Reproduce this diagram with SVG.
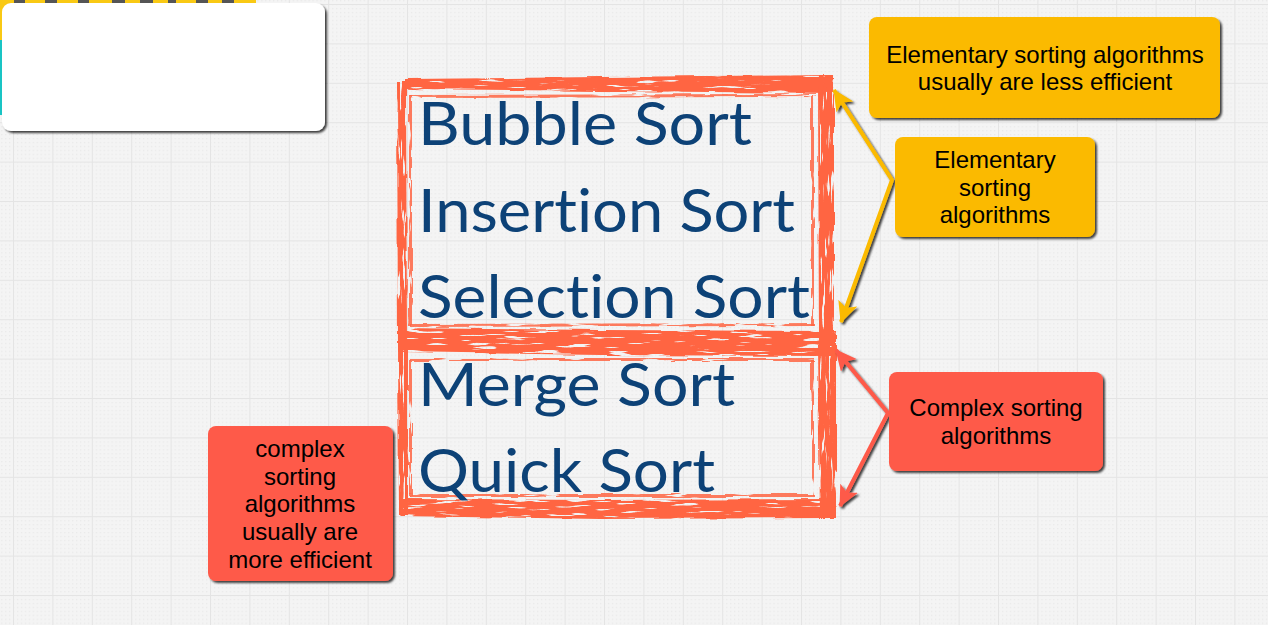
<svg xmlns="http://www.w3.org/2000/svg" width="1268" height="625" viewBox="0 0 1268 625">
<defs>
<pattern id="minor" width="3.94" height="3.94" patternUnits="userSpaceOnUse">
<rect x="0" y="0" width="1.3" height="1.3" fill="#e9e9e9"/>
</pattern>
<pattern id="major" x="13" y="4" width="39.4" height="39.4" patternUnits="userSpaceOnUse">
<rect width="39.4" height="39.4" fill="url(#minor)"/>
<path d="M0,0 H39.4 M0,0 V39.4" stroke="#e4e4e4" stroke-width="2" fill="none"/>
</pattern>
<filter id="sh" x="-10%" y="-10%" width="130%" height="130%">
<feDropShadow dx="2" dy="2" stdDeviation="1.2" flood-color="#000" flood-opacity="0.75"/>
</filter>
<filter id="rough" x="-5%" y="-5%" width="110%" height="110%">
<feTurbulence type="fractalNoise" baseFrequency="0.03 0.2" numOctaves="2" seed="3" result="n"/>
<feDisplacementMap in="SourceGraphic" in2="n" scale="4" xChannelSelector="R" yChannelSelector="G" result="d"/>
<feTurbulence type="fractalNoise" baseFrequency="0.03 0.35" numOctaves="2" seed="7" result="n2"/>
<feColorMatrix in="n2" type="matrix" values="0 0 0 0 0  0 0 0 0 0  0 0 0 0 0  -14 0 0 0 9.6" result="m"/>
<feComposite in="d" in2="m" operator="in"/>
</filter>
<filter id="roughV" x="-5%" y="-5%" width="110%" height="110%">
<feTurbulence type="fractalNoise" baseFrequency="0.2 0.03" numOctaves="2" seed="5" result="n"/>
<feDisplacementMap in="SourceGraphic" in2="n" scale="4" xChannelSelector="R" yChannelSelector="G" result="d"/>
<feTurbulence type="fractalNoise" baseFrequency="0.35 0.03" numOctaves="2" seed="9" result="n2"/>
<feColorMatrix in="n2" type="matrix" values="0 0 0 0 0  0 0 0 0 0  0 0 0 0 0  -14 0 0 0 9.6" result="m"/>
<feComposite in="d" in2="m" operator="in"/>
</filter>
<marker id="ahY" viewBox="0 0 22 20" refX="20" refY="10" markerWidth="22" markerHeight="20" markerUnits="userSpaceOnUse" orient="auto-start-reverse">
<path d="M0,0 L21,10 L0,20 L5,10 z" fill="#fbba00"/>
</marker>
<marker id="ahR" viewBox="0 0 22 20" refX="20" refY="10" markerWidth="22" markerHeight="20" markerUnits="userSpaceOnUse" orient="auto-start-reverse">
<path d="M0,0 L21,10 L0,20 L5,10 z" fill="#fe5a4a"/>
</marker>
</defs>
<style>
.lbl{font-family:"Liberation Sans",Arial,sans-serif;font-size:24px;fill:#000;text-anchor:middle}
.big{font-family:Lato,"Open Sans",sans-serif;font-size:60px;fill:#0d4277;font-variant-ligatures:none}
.brush{fill:#ff6542}
.yel{fill:#fbba00}
.red{fill:#fe5a4a}
</style>
<rect width="1268" height="625" fill="#f4f4f4"/>
<rect width="1268" height="625" fill="url(#major)"/>

<g id="corner-image">
<rect x="0" y="0" width="256" height="8" fill="#f9c914"/>
<g fill="#555">
<rect x="14" y="0" width="11" height="6"/><rect x="45" y="0" width="12" height="6"/><rect x="78" y="0" width="11" height="6"/><rect x="112" y="0" width="13" height="6"/><rect x="140" y="0" width="13" height="6"/><rect x="168" y="0" width="8" height="6"/><rect x="196" y="0" width="12" height="6"/><rect x="222" y="0" width="12" height="6"/>
</g>
<rect x="0" y="0" width="4" height="40" fill="#f9c914"/>
<rect x="0" y="40" width="3" height="75" fill="#19c4c4"/>
</g>

<g id="frames">
<g filter="url(#rough)">
<path class="brush" d="M405,79 L600,77 L833,75 L833,93 L600,91 L405,89 z"/>
<path class="brush" d="M398,328 L600,330 L836,331 L836,356 L600,355 L398,352 z"/>
<path class="brush" d="M400,499 L600,500 L836,499 L836,518 L600,519 L400,516 z"/>
<path class="brush" d="M410,95 L815,94 L815,97 L410,98 z" opacity="0.85"/>
<path class="brush" d="M410,324 L815,323 L815,326 L410,327 z" opacity="0.85"/>
<path class="brush" d="M410,358 L815,358 L815,361 L410,361 z" opacity="0.85"/>
<path class="brush" d="M410,494 L815,494 L815,497 L410,497 z" opacity="0.85"/>
</g>
<g filter="url(#roughV)">
<path class="brush" d="M818,75 L834,75 L834,352 L819,352 z"/>
<path class="brush" d="M818,345 L836,345 L836,518 L820,518 z"/>
<path class="brush" d="M397,82 L406,82 L407,345 L398,345 z"/>
<path class="brush" d="M398,345 L408,345 L408,515 L399,515 z"/>
<path class="brush" d="M811,96 L814,96 L814,326 L811,326 z" opacity="0.85"/>
<path class="brush" d="M409,96 L412,96 L412,326 L409,326 z" opacity="0.85"/>
<path class="brush" d="M811,360 L814,360 L814,496 L811,496 z" opacity="0.85"/>
<path class="brush" d="M409,360 L412,360 L412,496 L409,496 z" opacity="0.85"/>
</g>
</g>

<g id="sort-list">
<text class="big" x="418" y="145" textLength="334" lengthAdjust="spacingAndGlyphs">Bubble Sort</text>
<text class="big" x="418" y="232" textLength="377" lengthAdjust="spacingAndGlyphs">Insertion Sort</text>
<text class="big" x="418" y="318" textLength="392" lengthAdjust="spacingAndGlyphs">Selection Sort</text>
<text class="big" x="418" y="406" textLength="317" lengthAdjust="spacingAndGlyphs">Merge Sort</text>
<text class="big" x="418" y="492" textLength="297" lengthAdjust="spacingAndGlyphs">Quick Sort</text>
</g>

<g id="connectors" filter="url(#sh)" fill="none" stroke-width="4" stroke-linejoin="miter">
<path d="M834,90 L892,180 L841,322" stroke="#fbba00" marker-start="url(#ahY)" marker-end="url(#ahY)"/>
<path d="M836,350 L888,413 L840,506" stroke="#fe5a4a" marker-start="url(#ahR)" marker-end="url(#ahR)"/>
</g>

<g id="white-box">
<rect x="2" y="3" width="323" height="128" rx="9" fill="#fff" filter="url(#sh)"/>
</g>

<g id="note-elementary-efficiency">
<rect class="yel" x="869" y="17" width="351" height="101" rx="8" filter="url(#sh)"/>
<text class="lbl" x="1045" y="63">Elementary sorting algorithms</text>
<text class="lbl" x="1045" y="90">usually are less efficient</text>
</g>

<g id="note-elementary">
<rect class="yel" x="895" y="137" width="200" height="100" rx="8" filter="url(#sh)"/>
<text class="lbl" x="995" y="168">Elementary</text>
<text class="lbl" x="995" y="196">sorting</text>
<text class="lbl" x="995" y="223">algorithms</text>
</g>

<g id="note-complex">
<rect class="red" x="889" y="372" width="214" height="99" rx="8" filter="url(#sh)"/>
<text class="lbl" x="996" y="416">Complex sorting</text>
<text class="lbl" x="996" y="444">algorithms</text>
</g>

<g id="note-complex-efficiency">
<rect class="red" x="208" y="426" width="185" height="155" rx="8" filter="url(#sh)"/>
<text class="lbl" x="300" y="457">complex</text>
<text class="lbl" x="300" y="485">sorting</text>
<text class="lbl" x="300" y="512">algorithms</text>
<text class="lbl" x="300" y="540">usually are</text>
<text class="lbl" x="300" y="568">more efficient</text>
</g>
</svg>
